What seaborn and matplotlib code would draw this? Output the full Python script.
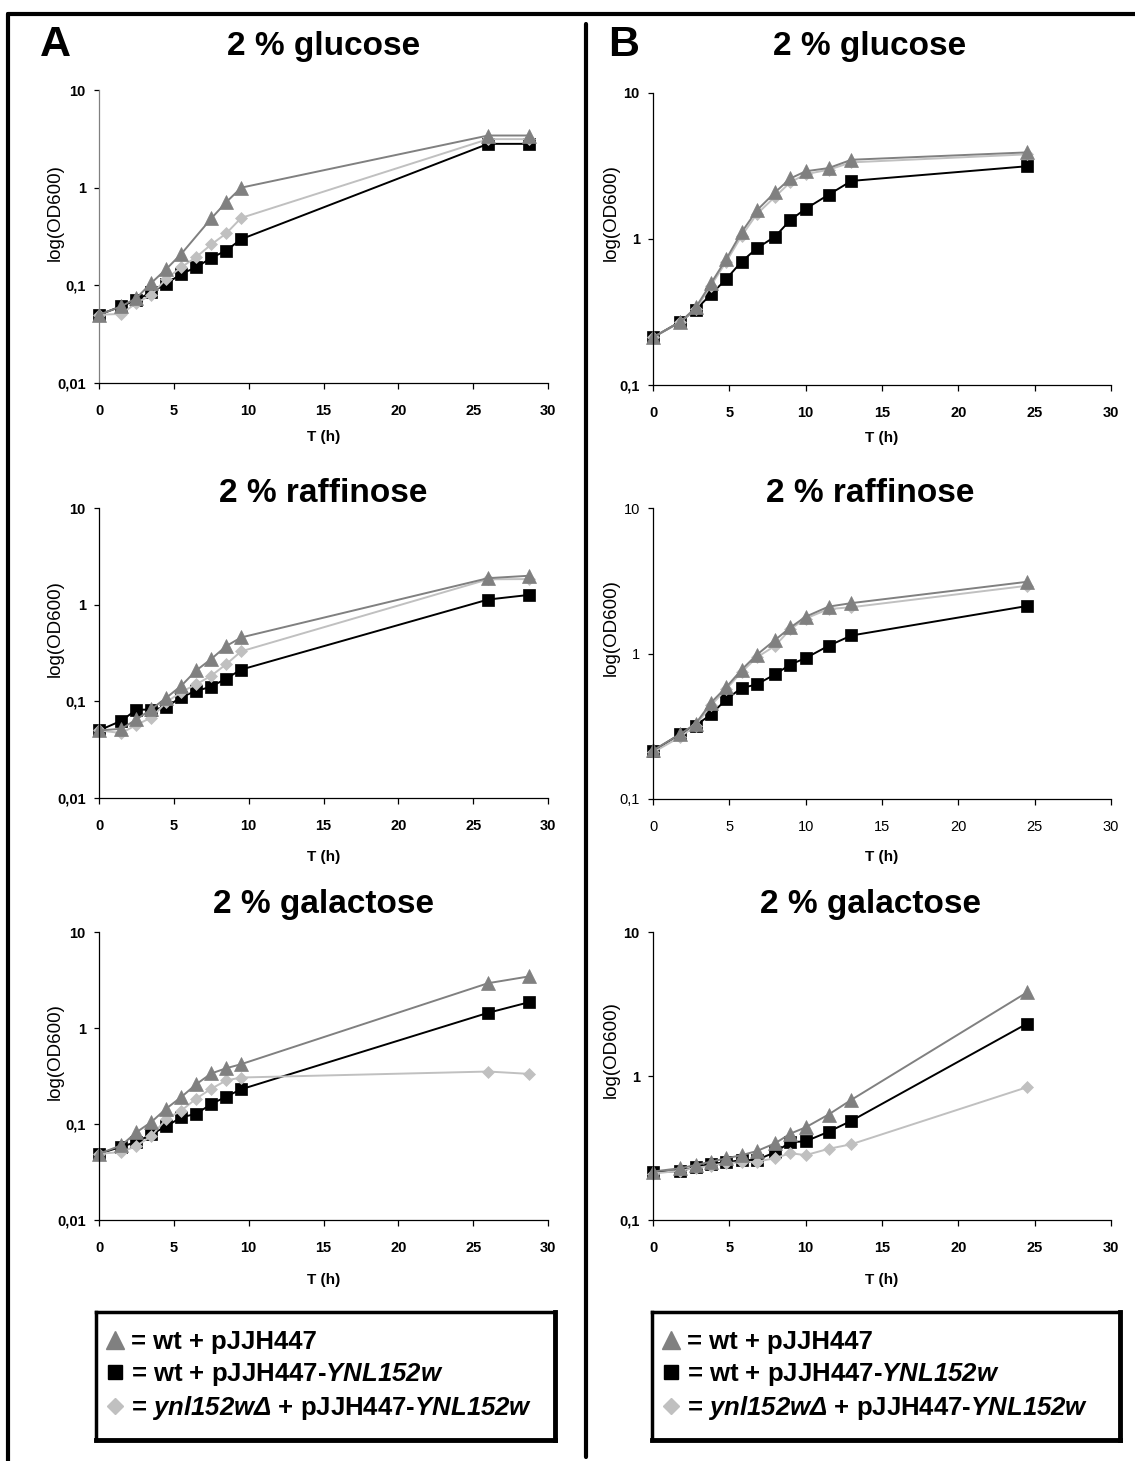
import numpy as np
import pandas as pd
import matplotlib
matplotlib.use('Agg')
import matplotlib.pyplot as plt
import seaborn as sns
from matplotlib import font_manager
from matplotlib.lines import Line2D
from matplotlib.ticker import FixedLocator, NullLocator

# sampling times (h)
TIME_A = [0, 1.5, 2.5, 3.5, 4.5, 5.5, 6.5, 7.5, 8.5, 9.5, 26, 28.7]
TIME_B = [0, 1.8, 2.8, 3.8, 4.8, 5.8, 6.8, 8, 9, 10, 11.5, 13, 24.5]

# A - 2 % glucose
A_GLU_WT = [0.05, 0.061, 0.074, 0.106, 0.147, 0.21, np.nan, 0.484, 0.71, 1.0, 3.42, 3.42]
A_GLU_YNL = [0.05, 0.061, 0.071, 0.085, 0.104, 0.131, 0.153, 0.191, 0.227, 0.297, 2.81, 2.81]
A_GLU_DEL = [0.05, 0.051, 0.066, 0.08, 0.117, 0.153, 0.195, 0.262, 0.34, 0.49, 3.14, 3.14]

# A - 2 % raffinose
A_RAF_WT = [0.05, 0.052, 0.065, 0.083, 0.109, 0.145, 0.209, 0.274, 0.373, 0.458, 1.88, 1.99]
A_RAF_YNL = [0.05, 0.063, 0.082, 0.082, 0.087, 0.111, 0.128, 0.142, 0.172, 0.213, 1.13, 1.26]
A_RAF_DEL = [0.05, 0.047, 0.057, 0.068, 0.098, 0.125, 0.15, 0.184, 0.242, 0.329, 1.83, 1.84]

# A - 2 % galactose
A_GAL_WT = [0.049, 0.06, 0.082, 0.105, 0.145, 0.191, 0.26, 0.336, 0.381, 0.42, 2.93, 3.44]
A_GAL_YNL = [0.049, 0.058, 0.065, 0.078, 0.095, 0.117, 0.128, 0.161, 0.193, 0.23, 1.44, 1.85]
A_GAL_DEL = [0.049, 0.051, 0.059, 0.075, 0.113, 0.138, 0.184, 0.233, 0.284, 0.305, 0.352, 0.333]

# B - 2 % glucose
B_GLU_WT = [0.212, 0.27, 0.34, 0.497, 0.73, 1.11, 1.57, 2.09, 2.6, 2.91, 3.06, 3.49, 3.92]
B_GLU_YNL = [0.212, 0.272, 0.328, 0.418, 0.532, 0.70, 0.863, 1.04, 1.35, 1.61, 2.01, 2.50, 3.15]
B_GLU_DEL = [0.212, 0.27, 0.33, 0.48, 0.70, 1.05, 1.48, 1.95, 2.45, 2.78, 2.98, 3.35, 3.8]

# B - 2 % raffinose
B_RAF_WT = [0.216, 0.28, 0.33, 0.459, 0.588, 0.773, 0.98, 1.24, 1.51, 1.79, 2.1, 2.22, 3.11]
B_RAF_YNL = [0.214, 0.28, 0.32, 0.382, 0.484, 0.579, 0.613, 0.72, 0.84, 0.93, 1.13, 1.33, 2.12]
B_RAF_DEL = [0.209, 0.268, 0.32, 0.44, 0.57, 0.745, 0.94, 1.13, 1.47, 1.74, 2.02, 2.08, 2.92]

# B - 2 % galactose
B_GAL_WT = [0.217, 0.229, 0.241, 0.254, 0.268, 0.282, 0.301, 0.341, 0.398, 0.44, 0.54, 0.684, 3.81]
B_GAL_YNL = [0.215, 0.219, 0.233, 0.246, 0.251, 0.261, 0.261, 0.296, 0.347, 0.352, 0.41, 0.489, 2.31]
B_GAL_DEL = [0.21, 0.22, 0.23, 0.238, 0.249, 0.251, 0.254, 0.269, 0.291, 0.282, 0.312, 0.336, 0.836]

TITLES = ['2 % glucose', '2 % raffinose', '2 % galactose']

LABELS = ['= wt + pJJH447',
          r'= wt + pJJH447-$YNL152w$',
          r'= $ynl152w\Delta$ + pJJH447-$YNL152w$']

# style per strain: colour, marker, marker size
STYLE = {
    'wt': ('#808080', '^', 9.5),
    'ynl': ('#000000', 's', 8),
    'del': ('#c0c0c0', 'D', 6.5),
}

W, H = 1135, 1461

sns.set_theme(style='white')
plt.rcParams['font.family'] = ['Liberation Sans', 'DejaVu Sans']
for k in ('text.color', 'axes.labelcolor', 'xtick.color', 'ytick.color'):
    plt.rcParams[k] = 'black'

# legend font: narrow variant if it is installed
installed = {f.name for f in font_manager.fontManager.ttflist}
if 'Liberation Sans Narrow' in installed:
    LEG_FONT, LEG_SIZE = 'Liberation Sans Narrow', 21
else:
    LEG_FONT, LEG_SIZE = 'Liberation Sans', 18.5
plt.rcParams['mathtext.fontset'] = 'custom'
plt.rcParams['mathtext.it'] = LEG_FONT + ':italic:bold'
plt.rcParams['mathtext.rm'] = LEG_FONT + ':italic:bold'
plt.rcParams['mathtext.bf'] = LEG_FONT + ':italic:bold'

fig = plt.figure(figsize=(W / 100, H / 100), dpi=100)


def px_box(l, t, r, b):
    return [l / W, 1 - b / H, (r - l) / W, (b - t) / H]


def fx(x):
    return x / W


def fy(y):
    return 1 - y / H


def draw_panel(box, time, wt, ynl, dele, yticks, ylabels, bold_ticks=True, gray_yaxis=False):
    ax = fig.add_axes(px_box(*box))
    ax.set_yscale('log')
    for key, vals in (('ynl', ynl), ('del', dele), ('wt', wt)):
        col, mk, ms = STYLE[key]
        df = pd.DataFrame({'T': time, 'OD': vals}).dropna()
        sns.lineplot(data=df, x='T', y='OD', ax=ax, color=col, marker=mk,
                     markersize=ms, markeredgecolor=col, markeredgewidth=0.5,
                     linewidth=1.4, estimator=None, sort=False, clip_on=False)
    ax.set_xlim(0, 30)
    ax.set_ylim(yticks[0], yticks[-1])
    ax.xaxis.set_major_locator(FixedLocator([0, 5, 10, 15, 20, 25, 30]))
    ax.yaxis.set_major_locator(FixedLocator(yticks))
    ax.yaxis.set_minor_locator(NullLocator())
    w = 'bold' if bold_ticks else 'normal'
    ax.set_xticklabels(['0', '5', '10', '15', '20', '25', '30'], fontsize=10.5, fontweight=w)
    ax.set_yticklabels(ylabels, fontsize=10.5, fontweight=w)
    ax.set_xlabel('')
    ax.set_ylabel('')
    for s in ('top', 'right'):
        ax.spines[s].set_visible(False)
    for s in ('left', 'bottom'):
        ax.spines[s].set_color('black')
        ax.spines[s].set_linewidth(0.9)
    if gray_yaxis:
        ax.spines['left'].set_color('#808080')
    ax.tick_params(axis='x', direction='out', length=4, width=0.9, pad=11,
                   bottom=True, color='black')
    ax.tick_params(axis='y', direction='out', length=3.5, width=0.9, pad=6,
                   left=True, color='black')
    return ax


A_TICKS = [0.01, 0.1, 1, 10]
A_TLAB = ['0,01', '0,1', '1', '10']
B_TICKS = [0.1, 1, 10]
B_TLAB = ['0,1', '1', '10']

panels_a = [
    ((99, 90, 548, 383), A_GLU_WT, A_GLU_YNL, A_GLU_DEL, 47, 437),
    ((99, 508, 548, 798), A_RAF_WT, A_RAF_YNL, A_RAF_DEL, 493, 857),
    ((99, 932, 548, 1220), A_GAL_WT, A_GAL_YNL, A_GAL_DEL, 905, 1280),
]
panels_b = [
    ((653, 93, 1111, 385), B_GLU_WT, B_GLU_YNL, B_GLU_DEL, 47, 438),
    ((653, 508, 1111, 799), B_RAF_WT, B_RAF_YNL, B_RAF_DEL, 493, 857),
    ((653, 932, 1111, 1220), B_GAL_WT, B_GAL_YNL, B_GAL_DEL, 905, 1280),
]

for i, (box, wt, ynl, dele, ty, xly) in enumerate(panels_a):
    draw_panel(box, TIME_A, wt, ynl, dele, A_TICKS, A_TLAB, gray_yaxis=(i == 0))
    cx = (box[0] + box[2]) / 2
    fig.text(fx(cx), fy(ty), TITLES[i], ha='center', va='center', fontsize=24, fontweight='bold')
    fig.text(fx(cx), fy(xly), 'T (h)', ha='center', va='center', fontsize=11, fontweight='bold')
    fig.text(fx(55), fy((box[1] + box[3]) / 2 - 24), 'log(OD600)', rotation=90,
             ha='center', va='center', fontsize=13.5)

for i, (box, wt, ynl, dele, ty, xly) in enumerate(panels_b):
    draw_panel(box, TIME_B, wt, ynl, dele, B_TICKS, B_TLAB, bold_ticks=(i != 1))
    cx = (box[0] + box[2]) / 2
    fig.text(fx(cx - 12), fy(ty), TITLES[i], ha='center', va='center', fontsize=24, fontweight='bold')
    fig.text(fx(cx), fy(xly), 'T (h)', ha='center', va='center', fontsize=11, fontweight='bold')
    fig.text(fx(611), fy((box[1] + box[3]) / 2 - 26), 'log(OD600)', rotation=90,
             ha='center', va='center', fontsize=13.5)

# panel letters
fig.text(fx(55), fy(45), 'A', ha='center', va='center', fontsize=31, fontweight='bold')
fig.text(fx(624), fy(45), 'B', ha='center', va='center', fontsize=31, fontweight='bold')

# frame lines
fig.add_artist(Line2D([fx(8), fx(W)], [fy(14), fy(14)], color='black', lw=3))
fig.add_artist(Line2D([fx(8), fx(8)], [fy(14), fy(H)], color='black', lw=3))
fig.add_artist(Line2D([fx(586), fx(586)], [fy(24), fy(1457)], color='black', lw=3))

# legends
handles = [Line2D([], [], ls='none', marker=STYLE[k][1], color=STYLE[k][0],
                  markeredgecolor=STYLE[k][0], markersize=STYLE[k][2] * 1.3)
           for k in ('wt', 'ynl', 'del')]

for box in ((96, 1312, 555, 1440), (652, 1312, 1120, 1440)):
    lax = fig.add_axes(px_box(*box))
    lax.set_xticks([])
    lax.set_yticks([])
    lax.set_facecolor('white')
    for s in lax.spines.values():
        s.set_visible(True)
        s.set_color('black')
        s.set_linewidth(2.5)
    lax.spines['bottom'].set_linewidth(3.5)
    lax.spines['right'].set_linewidth(3.5)
    lax.legend(handles, LABELS, loc='center left', frameon=False,
               prop={'weight': 'bold', 'size': LEG_SIZE, 'family': LEG_FONT},
               handlelength=0.7, handletextpad=0.25, labelspacing=0.25,
               borderaxespad=0.0)

fig.savefig('out.png', dpi=100)
